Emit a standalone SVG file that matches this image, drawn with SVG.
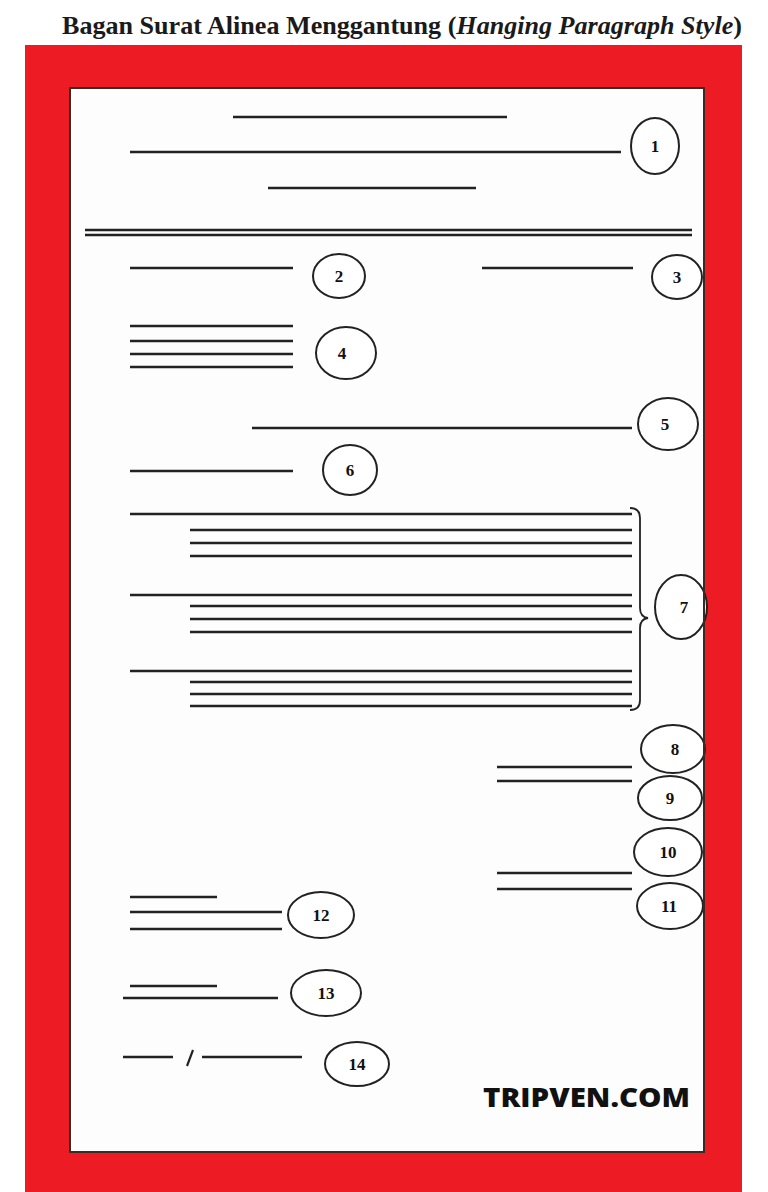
<svg xmlns="http://www.w3.org/2000/svg" width="768" height="1192" viewBox="0 0 768 1192">
<style>
.ln{stroke:#222;stroke-width:2.6;fill:none}
.el{fill:#fff;stroke:#222;stroke-width:2}
.num{font-family:"Liberation Serif",serif;font-weight:bold;font-size:17px;fill:#111;text-anchor:middle}
</style>
<rect x="0" y="0" width="768" height="1192" fill="#fff"/>
<text x="62" y="34" font-family="Liberation Serif,serif" font-weight="bold" font-size="26" fill="#1a1a1a" textLength="680" lengthAdjust="spacingAndGlyphs">Bagan Surat Alinea Menggantung (<tspan font-style="italic">Hanging Paragraph Style</tspan>)</text>
<rect x="25" y="45" width="717" height="1147" fill="#ED1C24"/>
<rect x="70" y="88" width="634" height="1064" fill="#fdfdfd" stroke="#3a2a22" stroke-width="2"/>
<g id="connectors">
<line class="ln" x1="233" y1="117" x2="507" y2="117"/>
<line class="ln" x1="130" y1="152" x2="621" y2="152"/>
<line class="ln" x1="268" y1="188" x2="476" y2="188"/>
<line class="ln" x1="85" y1="230" x2="692" y2="230"/>
<line class="ln" x1="85" y1="235" x2="692" y2="235"/>
<line class="ln" x1="130" y1="268" x2="293" y2="268"/>
<line class="ln" x1="482" y1="268" x2="633" y2="268"/>
<line class="ln" x1="130" y1="326" x2="293" y2="326"/>
<line class="ln" x1="130" y1="341" x2="293" y2="341"/>
<line class="ln" x1="130" y1="354" x2="293" y2="354"/>
<line class="ln" x1="130" y1="367" x2="293" y2="367"/>
<line class="ln" x1="252" y1="428" x2="632" y2="428"/>
<line class="ln" x1="130" y1="471" x2="293" y2="471"/>
<line class="ln" x1="130" y1="514" x2="632" y2="514"/>
<line class="ln" x1="190" y1="530" x2="632" y2="530"/>
<line class="ln" x1="190" y1="543" x2="632" y2="543"/>
<line class="ln" x1="190" y1="556" x2="632" y2="556"/>
<line class="ln" x1="130" y1="595" x2="632" y2="595"/>
<line class="ln" x1="190" y1="606" x2="632" y2="606"/>
<line class="ln" x1="190" y1="619" x2="632" y2="619"/>
<line class="ln" x1="190" y1="632" x2="632" y2="632"/>
<line class="ln" x1="130" y1="671" x2="632" y2="671"/>
<line class="ln" x1="190" y1="682" x2="632" y2="682"/>
<line class="ln" x1="190" y1="694" x2="632" y2="694"/>
<line class="ln" x1="190" y1="706" x2="632" y2="706"/>
<path d="M630 508 Q640 508 640 518 L640 608 Q640 617 648 618 Q640 619 640 628 L640 700 Q640 710 630 710" stroke="#222" stroke-width="1.8" fill="none"/>
<line class="ln" x1="497" y1="767" x2="632" y2="767"/>
<line class="ln" x1="497" y1="781" x2="632" y2="781"/>
<line class="ln" x1="497" y1="873" x2="632" y2="873"/>
<line class="ln" x1="497" y1="889" x2="632" y2="889"/>
<line class="ln" x1="130" y1="897" x2="217" y2="897"/>
<line class="ln" x1="130" y1="912" x2="282" y2="912"/>
<line class="ln" x1="130" y1="929" x2="282" y2="929"/>
<line class="ln" x1="130" y1="986" x2="217" y2="986"/>
<line class="ln" x1="123" y1="998" x2="278" y2="998"/>
<line class="ln" x1="123" y1="1057" x2="173" y2="1057"/>
<line class="ln" x1="202" y1="1057" x2="302" y2="1057"/>
<line x1="193" y1="1050" x2="187" y2="1066" stroke="#222" stroke-width="2.2"/>
</g>
<g id="n1"><ellipse class="el" cx="655" cy="146" rx="24" ry="28"/><text class="num" x="655" y="152">1</text></g>
<g id="n2"><ellipse class="el" cx="339" cy="276" rx="26" ry="22"/><text class="num" x="339" y="282">2</text></g>
<g id="n3"><ellipse class="el" cx="677" cy="277" rx="25" ry="22"/><text class="num" x="677" y="283">3</text></g>
<g id="n4"><ellipse class="el" cx="346" cy="353" rx="30" ry="26"/><text class="num" x="342" y="359">4</text></g>
<g id="n5"><ellipse class="el" cx="668" cy="424" rx="30" ry="26"/><text class="num" x="665" y="430">5</text></g>
<g id="n6"><ellipse class="el" cx="350" cy="470" rx="27" ry="25"/><text class="num" x="350" y="476">6</text></g>
<g id="n7"><ellipse class="el" cx="681" cy="607" rx="26" ry="32"/><text class="num" x="684" y="613">7</text></g>
<g id="n8"><ellipse class="el" cx="673" cy="749" rx="32" ry="24"/><text class="num" x="675" y="755">8</text></g>
<g id="n9"><ellipse class="el" cx="670" cy="798" rx="32" ry="22"/><text class="num" x="670" y="804">9</text></g>
<g id="n10"><ellipse class="el" cx="668" cy="852" rx="34" ry="24"/><text class="num" x="668" y="858">10</text></g>
<g id="n11"><ellipse class="el" cx="670" cy="906" rx="33" ry="23"/><text class="num" x="669" y="912">11</text></g>
<g id="n12"><ellipse class="el" cx="321" cy="915" rx="33" ry="23"/><text class="num" x="321" y="921">12</text></g>
<g id="n13"><ellipse class="el" cx="326" cy="993" rx="35" ry="23"/><text class="num" x="326" y="999">13</text></g>
<g id="n14"><ellipse class="el" cx="357" cy="1064" rx="32" ry="22"/><text class="num" x="357" y="1070">14</text></g>
<line x1="704" y1="88" x2="704" y2="1152" stroke="#3a2a22" stroke-width="2"/>
<text x="483" y="1107" font-family="'Open Sans',sans-serif" font-weight="800" font-size="27" fill="#111" textLength="207" lengthAdjust="spacingAndGlyphs">TRIPVEN.COM</text>
</svg>
